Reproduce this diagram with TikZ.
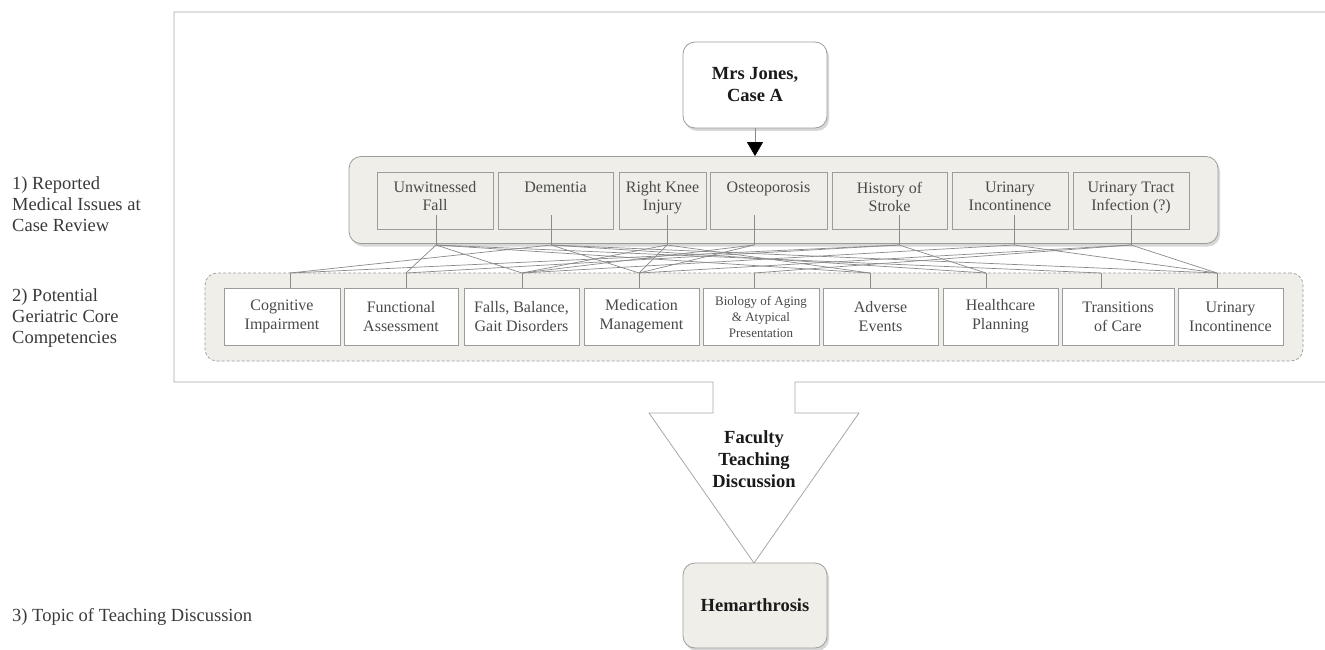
\documentclass[tikz,border=0pt]{standalone}
\usepackage{fontspec}
\setmainfont{Liberation Serif}
\usetikzlibrary{shadows,arrows.meta}
\definecolor{beige}{HTML}{F0EEE9}
\definecolor{boxline}{HTML}{9C9C9C}
\definecolor{conline}{HTML}{8A8A8A}
\definecolor{framecol}{HTML}{A8A8A8}
\definecolor{boxtext}{HTML}{4A4A4A}
\definecolor{labtext}{HTML}{3A3A3A}
\definecolor{boldtext}{HTML}{1A1A1A}
\begin{document}
\begin{tikzpicture}[x=1pt,y=-1pt,
  container/.style={draw=boxline, fill=beige, rounded corners=12pt, line width=0.8pt,
    drop shadow={shadow xshift=2pt, shadow yshift=-3pt, fill=black!35, opacity=0.45}},
  dcontainer/.style={draw=boxline, fill=beige, rounded corners=12pt, line width=0.7pt,
    dash pattern=on 3pt off 2pt},
  topbox/.style={draw=boxline, fill=beige, line width=0.7pt, minimum height=57pt, inner sep=0pt},
  botbox/.style={draw=boxline, fill=white, line width=0.7pt, minimum height=57pt, inner sep=0pt,
    align=center, text=boxtext, font={\fontsize{16}{19}\selectfont}},
  toptext/.style={anchor=north, align=center, inner sep=0pt, text=boxtext, font={\fontsize{16}{18}\selectfont}},
  roundbox/.style={draw=boxline, rounded corners=12pt, line width=0.8pt, minimum width=144pt,
    align=center, text=boldtext, font={\fontsize{18.5}{22}\selectfont\bfseries},
    drop shadow={shadow xshift=2pt, shadow yshift=-3pt, fill=black!35, opacity=0.45}},
  sidelab/.style={anchor=west, align=left, inner sep=0pt, text=labtext, font={\fontsize{18.5}{21}\selectfont}},
  conn/.style={draw=conline, line width=0.7pt}
]
\useasboundingbox (0,0) rectangle (1325,650);
\clip (0,0) rectangle (1325,650);

% outer frame with downward arrow
\draw[framecol, line width=0.8pt, line join=miter] (1340,12) -- (174,12) -- (174,382) -- (713,382) -- (713,413) -- (649,413)
  -- (754,563) -- (859,413) -- (795,413) -- (795,382) -- (1340,382);

% side labels
\node[sidelab] (lab1) at (12,204) {1) Reported\\Medical Issues at\\Case Review};
\node[sidelab] (lab2) at (12,318) {2) Potential\\Geriatric Core\\Competencies};
\node[sidelab] (lab3) at (12,617) {3) Topic of Teaching Discussion};

% containers
\node[container, minimum width=869pt, minimum height=87pt] (top) at (783.5,200) {};
\node[dcontainer, minimum width=1098pt, minimum height=88pt] (bot) at (754,317) {};

% case box
\node[roundbox, fill=white, minimum height=86pt] (mj) at (755,85) {Mrs Jones,\\Case A};
\draw[conn, -{Triangle[width=16pt,length=14pt,fill=black,color=black]}] (mj.south) -- (mj.south |- top.north);

% top row boxes
\node[topbox, minimum width=116pt] (t1) at (435,200.5) {};
\node[topbox, minimum width=115pt] (t2) at (555.5,200.5) {};
\node[topbox, minimum width=87pt] (t3) at (662.5,200.5) {};
\node[topbox, minimum width=117pt] (t4) at (768.5,200.5) {};
\node[topbox, minimum width=115pt] (t5) at (889.5,200.5) {};
\node[topbox, minimum width=116pt] (t6) at (1010,200.5) {};
\node[topbox, minimum width=116pt] (t7) at (1131,200.5) {};
\node[toptext] (t1l) at ([yshift=-10pt]t1.north) {Unwitnessed\\Fall};
\node[toptext] (t2l) at ([yshift=-10pt]t2.north) {Dementia};
\node[toptext] (t3l) at ([yshift=-10pt]t3.north) {Right Knee\\Injury};
\node[toptext] (t4l) at ([yshift=-10pt]t4.north) {Osteoporosis};
\node[toptext] (t5l) at ([yshift=-10pt]t5.north) {History of\\Stroke};
\node[toptext] (t6l) at ([yshift=-10pt]t6.north) {Urinary\\Incontinence};
\node[toptext] (t7l) at ([yshift=-10pt]t7.north) {Urinary Tract\\Infection (?)};

% bottom row boxes
\node[botbox, minimum width=116pt] (b1) at (282,316.5) {Cognitive\\Impairment};
\node[botbox, minimum width=114pt] (b2) at (401,316.5) {Functional\\Assessment};
\node[botbox, minimum width=115pt] (b3) at (521.5,316.5) {Falls, Balance,\\Gait Disorders};
\node[botbox, minimum width=115pt] (b4) at (641.5,316.5) {Medication\\Management};
\node[botbox, minimum width=116pt, font={\fontsize{13}{16}\selectfont}] (b5) at (761,316.5) {Biology of Aging\\\& Atypical\\Presentation};
\node[botbox, minimum width=115pt] (b6) at (880.5,316.5) {Adverse\\Events};
\node[botbox, minimum width=115pt] (b7) at (1000.5,316.5) {Healthcare\\Planning};
\node[botbox, minimum width=112pt] (b8) at (1118,316.5) {Transitions\\of Care};
\node[botbox, minimum width=105pt] (b9) at (1230.5,316.5) {Urinary\\Incontinence};

% stub points
\coordinate (s1) at (436,215); \coordinate (j1) at (436,245);
\coordinate (s2) at (551,215); \coordinate (j2) at (551,245);
\coordinate (s3) at (667,215); \coordinate (j3) at (667,245);
\coordinate (s4) at (754,215); \coordinate (j4) at (754,245);
\coordinate (s5) at (899,215); \coordinate (j5) at (899,245);
\coordinate (s6) at (1014,215); \coordinate (j6) at (1014,245);
\coordinate (s7) at (1131,215); \coordinate (j7) at (1131,245);
\coordinate (k1) at (290,273);
\coordinate (k2) at (406,273);
\coordinate (k3) at (522,273);
\coordinate (k4) at (639,273);
\coordinate (k5) at (754,273);
\coordinate (k6) at (870,273);
\coordinate (k7) at (986,273);
\coordinate (k8) at (1101,273);
\coordinate (k9) at (1217,273);

\foreach \i in {1,...,7} { \draw[conn] (s\i) -- (j\i); }
\foreach \i in {1,...,9} { \draw[conn] (k\i) -- (k\i |- b\i.north); }

% links issue -> competency
\draw[conn] (j1) -- (k2);
\draw[conn] (j1) -- (k3);
\draw[conn] (j1) -- (k6);
\draw[conn] (j1) -- (k8);
\draw[conn] (j2) -- (k1);
\draw[conn] (j2) -- (k4);
\draw[conn] (j2) -- (k7);
\draw[conn] (j2) -- (k9);
\draw[conn] (j3) -- (k3);
\draw[conn] (j3) -- (k4);
\draw[conn] (j3) -- (k6);
\draw[conn] (j4) -- (k3);
\draw[conn] (j4) -- (k4);
\draw[conn] (j5) -- (k1);
\draw[conn] (j5) -- (k2);
\draw[conn] (j5) -- (k7);
\draw[conn] (j6) -- (k3);
\draw[conn] (j6) -- (k9);
\draw[conn] (j7) -- (k4);
\draw[conn] (j7) -- (k5);
\draw[conn] (j7) -- (k9);

% teaching discussion
\node[align=center, inner sep=0pt, text=boldtext, font={\fontsize{18.5}{22}\selectfont\bfseries}] (ftd) at (754,459) {Faculty\\Teaching\\Discussion};
\node[roundbox, fill=beige, minimum height=85pt] (hem) at (755,605.5) {Hemarthrosis};
\end{tikzpicture}
\end{document}
